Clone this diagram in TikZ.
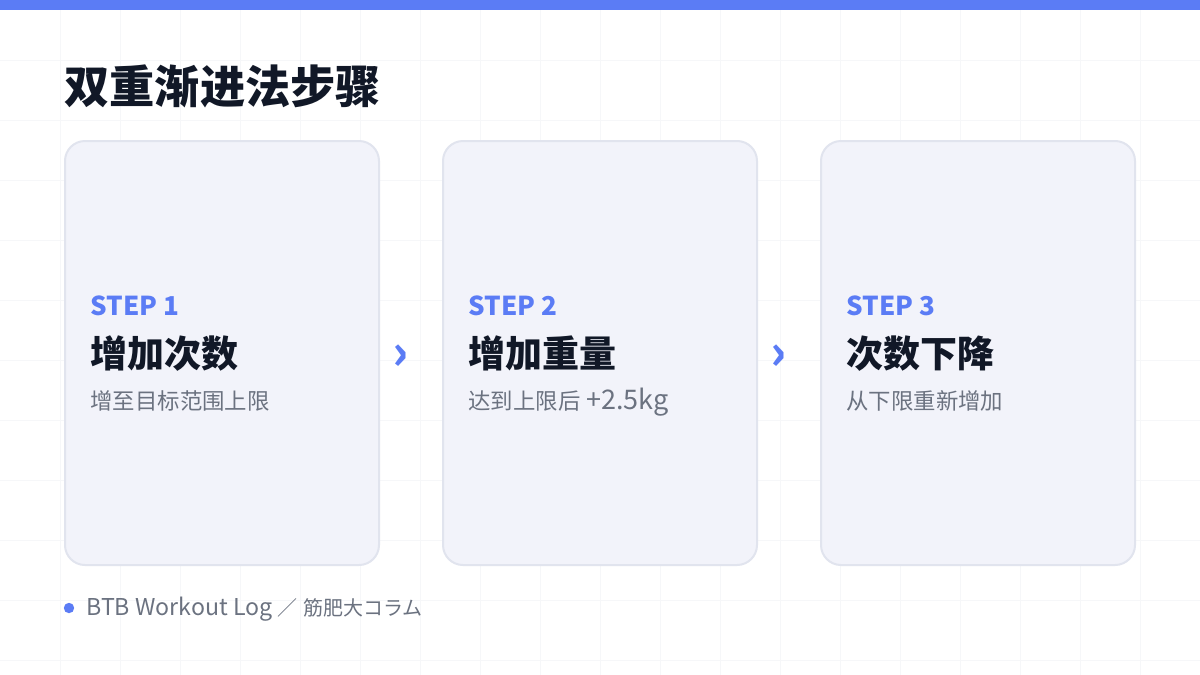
\documentclass[tikz,border=0pt]{standalone}
\usepackage{fontspec}
\setmainfont{Noto Sans CJK SC}
\definecolor{accent}{HTML}{5B7CF5}
\definecolor{ink}{HTML}{111827}
\definecolor{muted}{HTML}{6B7280}
\definecolor{cardfill}{HTML}{F2F3FA}
\definecolor{cardline}{HTML}{E1E4EE}
\definecolor{gridcol}{HTML}{F6F7F9}
\newcommand\latpart[2]{{\fontsize{#1}{#1}\selectfont #2}}
\tikzset{
  card/.style={draw=cardline, line width=1pt, fill=cardfill, rounded corners=10pt},
  steplabel/.style={anchor=base west, inner sep=0pt, text=accent, font=\fontsize{13}{15}\selectfont\bfseries},
  steptitle/.style={anchor=base west, inner sep=0pt, text=ink, font=\fontsize{18.5}{21}\selectfont\bfseries},
  stepnote/.style={anchor=base west, inner sep=0pt, text=muted, font=\fontsize{11.2}{13}\selectfont},
  chevron/.style={inner sep=0pt, text=accent, font=\fontsize{24}{26}\selectfont\bfseries}
}
\begin{document}
\begin{tikzpicture}[x=0.5pt,y=-0.5pt]
        \useasboundingbox (0,0) rectangle (1200,675);
        \fill[white] (0,0) rectangle (1200,675);
        % Faint background grid
        \foreach \gx in {60,120,...,1140} \draw[gridcol, line width=0.5pt] (\gx,10) -- (\gx,675);
        \foreach \gy in {60,120,...,660} \draw[gridcol, line width=0.5pt] (0,\gy) -- (1200,\gy);
        % Top accent bar
        \fill[accent] (0,0) rectangle (1200,10);
        % Title
        \node[anchor=base west, inner sep=0pt, text=ink, font=\fontsize{22.6}{26}\selectfont\bfseries] (title) at (64,103) {双重渐进法步骤};
        % Three step cards
        \foreach \i/\cx/\lab/\head/\note in {1/65/STEP 1/增加次数/增至目标范围上限,
                                               2/443/STEP 2/增加重量/达到上限后\latpart{13.5}{ +2.5kg},
                                               3/821/STEP 3/次数下降/从下限重新增加} {
            \draw[card] (\cx,141) rectangle ++(314,424);
            \node[steplabel] (step\i) at (\cx+25,315) {\lab};
            \node[steptitle] (head\i) at (\cx+25,367) {\head};
            \node[stepnote] (note\i) at (\cx+25,409) {\note};
        }
        % Chevrons between the cards
        \node[chevron] (chev1) at (401,357) {›};
        \node[chevron] (chev2) at (779,357) {›};
        % Footer
        \fill[accent] (69,608) circle (2.6pt);
        \node[anchor=base west, inner sep=0pt, text=muted, font=\fontsize{10}{12}\selectfont] (footer) at (86,615) {\latpart{11.6}{BTB Workout Log }／\latpart{11.6}{ }筋肥大コラム};
\end{tikzpicture}
\end{document}
